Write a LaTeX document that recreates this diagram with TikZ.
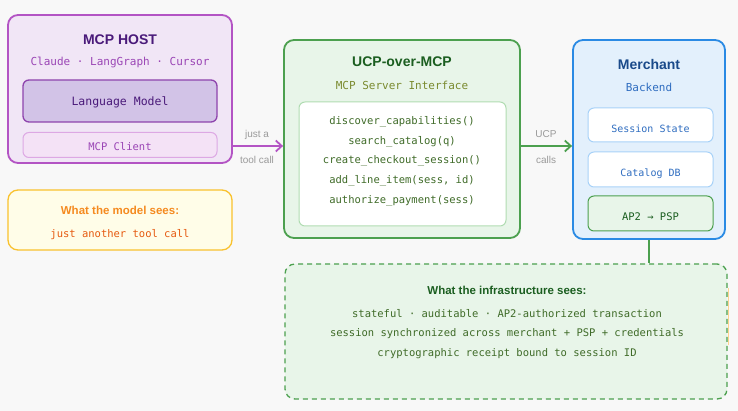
\documentclass[tikz,border=0pt]{standalone}
\usepackage{fontspec}
\setmainfont{Liberation Sans}
\newfontfamily\monof{DejaVu Sans Mono}
\usetikzlibrary{arrows.meta}
\definecolor{bgc}{HTML}{F8F8F8}
\definecolor{hostfill}{HTML}{F1E6F6}
\definecolor{hostdraw}{HTML}{B354C4}
\definecolor{hosttitle}{HTML}{4A1A7A}
\definecolor{hosttext}{HTML}{9A45B5}
\definecolor{lmfill}{HTML}{D2C3E7}
\definecolor{lmdraw}{HTML}{8E44AD}
\definecolor{clfill}{HTML}{F4E2F6}
\definecolor{cldraw}{HTML}{DDA8E4}
\definecolor{ucpfill}{HTML}{E8F5E9}
\definecolor{ucpdraw}{HTML}{4CA04F}
\definecolor{ucptitle}{HTML}{1B5E20}
\definecolor{ucpsub}{HTML}{7A8A2E}
\definecolor{ucptext}{HTML}{3F6B28}
\definecolor{innerdraw}{HTML}{B0DCB2}
\definecolor{merfill}{HTML}{E3F0FC}
\definecolor{merdraw}{HTML}{2A8AE4}
\definecolor{mertitle}{HTML}{1A4A8A}
\definecolor{mertext}{HTML}{2F6DC0}
\definecolor{subdraw}{HTML}{A8D2F8}
\definecolor{yelfill}{HTML}{FFFDE8}
\definecolor{yeldraw}{HTML}{F9C22E}
\definecolor{yeltitle}{HTML}{F58A1F}
\definecolor{yeltext}{HTML}{E65A10}
\definecolor{graytext}{HTML}{9A9A9A}
\tikzset{
  box/.style={draw, rounded corners=10pt, line width=1.8pt, inner sep=0pt},
  subbox/.style={draw, rounded corners=6pt, line width=1pt, inner sep=0pt},
  ttl/.style={font=\bfseries\fontsize{14}{16}\selectfont, inner sep=0pt},
  mono/.style={font=\monof\fontsize{10.5}{12}\selectfont, inner sep=0pt, yshift=-1.3pt},
  lbl/.style={font=\fontsize{10}{12}\selectfont, text=graytext, inner sep=0pt, yshift=-1.5pt},
  arr/.style={line width=1.8pt, -{Straight Barb[length=6pt,width=11pt,line width=1.8pt]}},
}
\begin{document}
\begin{tikzpicture}[x=1pt,y=-1pt]
\fill[bgc] (0,0) rectangle (738,411);
\useasboundingbox (0,0) rectangle (738,411);

% MCP host
\node[box, draw=hostdraw, fill=hostfill, minimum width=224pt, minimum height=148pt] (host) at (120,89) {};
\node[ttl, text=hosttitle] (hostt) at (120,40) {MCP HOST};
\node[mono, text=hosttext, font=\monof\fontsize{11}{12}\selectfont] (hosts) at (120,61) {Claude · LangGraph · Cursor};
\node[subbox, draw=lmdraw, fill=lmfill, line width=1.3pt, minimum width=194pt, minimum height=42pt] (lm) at (120,101) {};
\node[mono, text=hosttitle, font=\monof\fontsize{11.5}{12}\selectfont] (lmt) at (120,101.5) {Language Model};
\node[subbox, draw=cldraw, fill=clfill, minimum width=194pt, minimum height=25pt] (cl) at (120,145) {};
\node[mono, text=hosttext] (clt) at (120,145.5) {MCP Client};

% yellow box
\node[box, draw=yeldraw, fill=yelfill, line width=1.3pt, minimum width=224pt, minimum height=60pt] (yel) at (120,220) {};
\node[font=\bfseries\fontsize{11.5}{13}\selectfont, text=yeltitle, inner sep=0pt] (yelt) at (120,210) {What the model sees:};
\node[mono, text=yeltext] (yels) at (120,233) {just another tool call};

% UCP box
\node[box, draw=ucpdraw, fill=ucpfill, minimum width=236pt, minimum height=198pt] (ucp) at (402,139) {};
\node[ttl, text=ucptitle] (ucpt) at (402,62) {UCP-over-MCP};
\node[mono, text=ucpsub, font=\monof\fontsize{11}{12}\selectfont] (ucps) at (402,84) {MCP Server Interface};
\node[subbox, draw=innerdraw, fill=white, minimum width=207pt, minimum height=124pt] (inner) at (402.5,164) {};
\node[mono, text=ucptext] (f1) at (402,120) {discover\_capabilities()};
\node[mono, text=ucptext] (f2) at (402,140) {search\_catalog(q)};
\node[mono, text=ucptext] (f3) at (402,159) {create\_checkout\_session()};
\node[mono, text=ucptext] (f4) at (402,179) {add\_line\_item(sess, id)};
\node[mono, text=ucptext] (f5) at (402,199) {authorize\_payment(sess)};

% Merchant box
\node[box, draw=merdraw, fill=merfill, minimum width=152pt, minimum height=199pt] (mer) at (649,139.5) {};
\node[ttl, text=mertitle] (mert) at (649,65) {Merchant};
\node[mono, text=mertext, font=\monof\fontsize{11}{12}\selectfont] (mers) at (649,86) {Backend};
\node[subbox, draw=subdraw, fill=white, minimum width=125pt, minimum height=34pt] (ss) at (650.5,125) {};
\node[mono, text=mertext, font=\monof\fontsize{10}{12}\selectfont] (sst) at (650.5,127) {Session State};
\node[subbox, draw=subdraw, fill=white, minimum width=125pt, minimum height=35pt] (cdb) at (650.5,169.5) {};
\node[mono, text=mertext, font=\monof\fontsize{10}{12}\selectfont] (cdbt) at (650.5,172) {Catalog DB};
\node[subbox, draw=ucpdraw, fill=ucpfill, minimum width=125pt, minimum height=35pt] (ap2) at (650.5,213.5) {};
\node[mono, text=ucptitle, font=\monof\fontsize{10.5}{12}\selectfont] (ap2t) at (650.5,215) {AP2 → PSP};

% orange sliver
\draw[draw=yeldraw!60!orange!50, line width=1.5pt] (728.5,288) -- (728.5,345);

% infrastructure box
\node[draw=ucpdraw, fill=ucpfill, dashed, dash pattern=on 5pt off 4pt, rounded corners=10pt, line width=1.3pt, minimum width=442pt, minimum height=135pt, inner sep=0pt] (infra) at (506,331.5) {};
\node[font=\bfseries\fontsize{11.5}{13}\selectfont, text=ucptitle, inner sep=0pt] (inft) at (507,290) {What the infrastructure sees:};
\node[mono, text=ucptext] (i1) at (507,312) {stateful · auditable · AP2-authorized transaction};
\node[mono, text=ucptext] (i2) at (507,332) {session synchronized across merchant + PSP + credentials};
\node[mono, text=ucptext] (i3) at (507,352) {cryptographic receipt bound to session ID};

% connectors
\draw[arr, draw=hostdraw] (host.east |- 0,146) -- (ucp.west |- 0,146);
\node[lbl] (l1) at (257,133) {just a};
\node[lbl] (l2) at (257,158) {tool call};
\draw[arr, draw=ucpdraw] (ucp.east |- 0,146) -- (mer.west |- 0,146);
\node[lbl] (l3) at (546,133) {UCP};
\node[lbl] (l4) at (546,158) {calls};
\draw[draw=ucpdraw, line width=1.8pt] (mer.south) -- (infra.north -| mer.south);
\end{tikzpicture}
\end{document}
